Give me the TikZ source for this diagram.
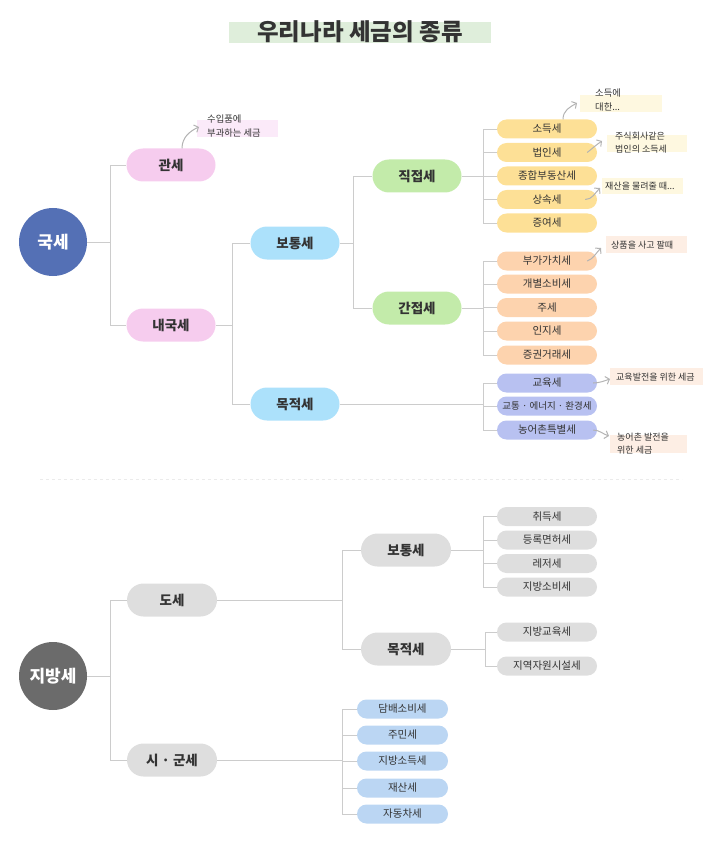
\documentclass[tikz,border=0pt]{standalone}
\usepackage{fontspec}
\setmainfont{Noto Sans CJK KR}
\usetikzlibrary{arrows.meta}
\definecolor{gukC}{HTML}{5470B5}
\definecolor{jibC}{HTML}{6B6B6B}
\definecolor{pinkC}{HTML}{F6CCEE}
\definecolor{skyC}{HTML}{ACE1FB}
\definecolor{greenC}{HTML}{C3EBAA}
\definecolor{yellowC}{HTML}{FDE096}
\definecolor{peachC}{HTML}{FDD3AE}
\definecolor{lavC}{HTML}{B8C1F1}
\definecolor{grayC}{HTML}{DEDEDE}
\definecolor{bluebC}{HTML}{BBD6F3}
\definecolor{titleC}{HTML}{DFEEDB}
\definecolor{annY}{HTML}{FEF8E0}
\definecolor{annP}{HTML}{FBEAF9}
\definecolor{annO}{HTML}{FDEEE4}
\definecolor{lineC}{HTML}{CCCCCC}
\definecolor{arrC}{HTML}{B3B3B3}
\definecolor{txtC}{HTML}{333333}
\begin{document}
\begin{tikzpicture}[x=1pt,y=-1pt,
  conn/.style={draw=lineC, line width=0.9pt},
  circ/.style={circle, minimum size=68pt, inner sep=0pt, text=white, font=\fontsize{17}{17}\selectfont\bfseries},
  pb/.style={rounded corners=16.5pt, minimum width=89pt, minimum height=33pt, inner sep=0pt, text=txtC, font=\fontsize{13.5}{14}\selectfont\bfseries},
  ps/.style={rounded corners=9.5pt, minimum width=100pt, minimum height=19pt, inner sep=0pt, text=txtC, font=\fontsize{10.5}{11}\selectfont},
  pbl/.style={ps, minimum width=91pt},
  anntext/.style={anchor=west, inner sep=0pt, align=left, text=txtC, font=\fontsize{9.3}{14}\selectfont},
  annarrow/.style={draw=arrC, line width=1pt, -{Straight Barb[length=3.5pt,width=8pt]}}
]
\useasboundingbox (0,0) rectangle (725,842);
% title
\fill[titleC] (229,22) rectangle (491,43);
\node[text=txtC, font=\fontsize{23.5}{24}\selectfont\bfseries] (title) at (360,32) {우리나라 세금의 종류};

% ---------- 국세 ----------
\coordinate (j1) at (110,242);
\coordinate (j2) at (232,325);
\coordinate (j3) at (353,243);
\coordinate (j4) at (483,176);
\coordinate (j5) at (483,308);
\coordinate (j6) at (483,404);

\node[circ, fill=gukC] (guk) at (53,242) {국세};
\node[pb, fill=pinkC] (kwan) at (171,165) {관세};
\node[pb, fill=pinkC] (naeguk) at (171,325) {내국세};
\node[pb, fill=skyC] (botong) at (295,243) {보통세};
\node[pb, fill=skyC] (mokjeok) at (295,404) {목적세};
\node[pb, fill=greenC] (jikjeop) at (417,176) {직접세};
\node[pb, fill=greenC] (ganjeop) at (417,308) {간접세};

\node[ps, fill=yellowC] (y1) at (547,129) {소득세};
\node[ps, fill=yellowC] (y2) at (547,152.5) {법인세};
\node[ps, fill=yellowC] (y3) at (547,176) {종합부동산세};
\node[ps, fill=yellowC] (y4) at (547,199.5) {상속세};
\node[ps, fill=yellowC] (y5) at (547,223) {증여세};

\node[ps, fill=peachC] (p1) at (547,261) {부가가치세};
\node[ps, fill=peachC] (p2) at (547,284) {개별소비세};
\node[ps, fill=peachC] (p3) at (547,307.5) {주세};
\node[ps, fill=peachC] (p4) at (547,331) {인지세};
\node[ps, fill=peachC] (p5) at (547,355) {증권거래세};

\node[ps, fill=lavC] (l1) at (547,383) {교육세};
\node[ps, fill=lavC, font=\fontsize{9.5}{10}\selectfont] (l2) at (547,406) {교통 · 에너지 · 환경세};
\node[ps, fill=lavC] (l3) at (547,430) {농어촌특별세};

\draw[conn] (guk.east) -- (j1) |- (kwan.west);
\draw[conn] (j1) |- (naeguk.west);
\draw[conn] (naeguk.east) -- (j2) |- (botong.west);
\draw[conn] (j2) |- (mokjeok.west);
\draw[conn] (botong.east) -- (j3) |- (jikjeop.west);
\draw[conn] (j3) |- (ganjeop.west);
\draw[conn] (jikjeop.east) -- (j4);
\draw[conn] (j4) |- (y1.west);
\draw[conn] (j4) |- (y2.west);
\draw[conn] (j4) |- (y3.west);
\draw[conn] (j4) |- (y4.west);
\draw[conn] (j4) |- (y5.west);
\draw[conn] (ganjeop.east) -- (j5);
\draw[conn] (j5) |- (p1.west);
\draw[conn] (j5) |- (p2.west);
\draw[conn] (j5) |- (p3.west);
\draw[conn] (j5) |- (p4.west);
\draw[conn] (j5) |- (p5.west);
\draw[conn] (mokjeok.east) -- (j6);
\draw[conn] (j6) |- (l1.west);
\draw[conn] (j6) |- (l2.west);
\draw[conn] (j6) |- (l3.west);

% annotations
\fill[annP] (197,120) rectangle (278,137);
\node[anntext] (n1) at (207,126.5) {수입품에\\부과하는 세금};
\fill[annY] (580,95) rectangle (662,112);
\node[anntext] (n2) at (595,100.5) {소득에\\대한...};
\fill[annY] (607,135) rectangle (687,152);
\node[anntext, font=\fontsize{9}{13}\selectfont] (n3) at (615,142.5) {주식회사같은\\법인의 소득세};
\fill[annY] (602,178) rectangle (683,194);
\node[anntext, font=\fontsize{9}{13}\selectfont] (n4) at (605,186) {재산을 물려줄 때...};
\fill[annO] (606,236) rectangle (687,253);
\node[anntext, font=\fontsize{9}{13}\selectfont] (n5) at (611,245) {상품을 사고 팔때};
\fill[annO] (610,368) rectangle (703,385);
\node[anntext, font=\fontsize{9}{13}\selectfont] (n6) at (616,377) {교육발전을 위한 세금};
\fill[annO] (610,435) rectangle (687,453);
\node[anntext, font=\fontsize{9}{13}\selectfont] (n7) at (617,444) {농어촌 발전을\\위한 세금};

\coordinate (e1) at (199,127);
\coordinate (e2) at (577,103);
\coordinate (e3) at (602,141);
\coordinate (e4) at (600,188);
\coordinate (e5) at (601,248);
\coordinate (e6) at (610,379);
\coordinate (e7) at (609,436);
\draw[annarrow] ([xshift=11pt]kwan.north) .. controls +(0,-11) and +(-9,4) .. (e1);
\draw[annarrow] ([xshift=16pt]y1.north) .. controls +(0,-9) and +(-7,4) .. (e2);
\draw[annarrow] ([xshift=-10pt]y2.east) .. controls +(5,-4) and +(-6,4) .. (e3);
\draw[annarrow] ([xshift=-12pt]y4.east) .. controls +(7,0) and +(-5,5) .. (e4);
\draw[annarrow] ([xshift=-10pt]p1.east) .. controls +(6,-2) and +(-5,5) .. (e5);
\draw[annarrow] ([xshift=-4pt]l1.east) .. controls +(6,0) and +(-6,2) .. (e6);
\draw[annarrow] ([xshift=-4pt]l3.east) .. controls +(6,0) and +(-6,-2) .. (e7);

% divider
\draw[draw=black!8, line width=0.8pt, dashed] (40,479) -- (682,479);

% ---------- 지방세 ----------
\coordinate (k1) at (110,676);
\coordinate (k2) at (342,600);
\coordinate (k3) at (483,550);
\coordinate (k4) at (485,649);
\coordinate (k5) at (342,760);

\node[circ, fill=jibC] (jibang) at (53,676) {지방세};
\node[pb, fill=grayC, minimum width=90pt] (dose) at (172,600) {도세};
\node[pb, fill=grayC, minimum width=90pt] (sigun) at (172,760) {시 · 군세};
\node[pb, fill=grayC, minimum width=90pt] (bbotong) at (406,550) {보통세};
\node[pb, fill=grayC, minimum width=90pt] (bmokjeok) at (406,649) {목적세};

\node[ps, fill=grayC] (g1) at (547,516.5) {취득세};
\node[ps, fill=grayC] (g2) at (547,540) {등록면허세};
\node[ps, fill=grayC] (g3) at (547,563.5) {레저세};
\node[ps, fill=grayC] (g4) at (547,587) {지방소비세};
\node[ps, fill=grayC] (g5) at (547,632) {지방교육세};
\node[ps, fill=grayC] (g6) at (547,666) {지역자원시설세};

\node[pbl, fill=bluebC] (b1) at (402.5,709) {담배소비세};
\node[pbl, fill=bluebC] (b2) at (402.5,735) {주민세};
\node[pbl, fill=bluebC] (b3) at (402.5,761) {지방소득세};
\node[pbl, fill=bluebC] (b4) at (402.5,788) {재산세};
\node[pbl, fill=bluebC] (b5) at (402.5,814) {자동차세};

\draw[conn] (jibang.east) -- (k1) |- (dose.west);
\draw[conn] (k1) |- (sigun.west);
\draw[conn] (dose.east) -- (k2) |- (bbotong.west);
\draw[conn] (k2) |- (bmokjeok.west);
\draw[conn] (bbotong.east) -- (k3);
\draw[conn] (k3) |- (g1.west);
\draw[conn] (k3) |- (g2.west);
\draw[conn] (k3) |- (g3.west);
\draw[conn] (k3) |- (g4.west);
\draw[conn] (bmokjeok.east) -- (k4);
\draw[conn] (k4) |- (g5.west);
\draw[conn] (k4) |- (g6.west);
\draw[conn] (sigun.east) -- (k5);
\draw[conn] (k5) |- (b1.west);
\draw[conn] (k5) |- (b2.west);
\draw[conn] (k5) |- (b3.west);
\draw[conn] (k5) |- (b4.west);
\draw[conn] (k5) |- (b5.west);
\end{tikzpicture}
\end{document}
